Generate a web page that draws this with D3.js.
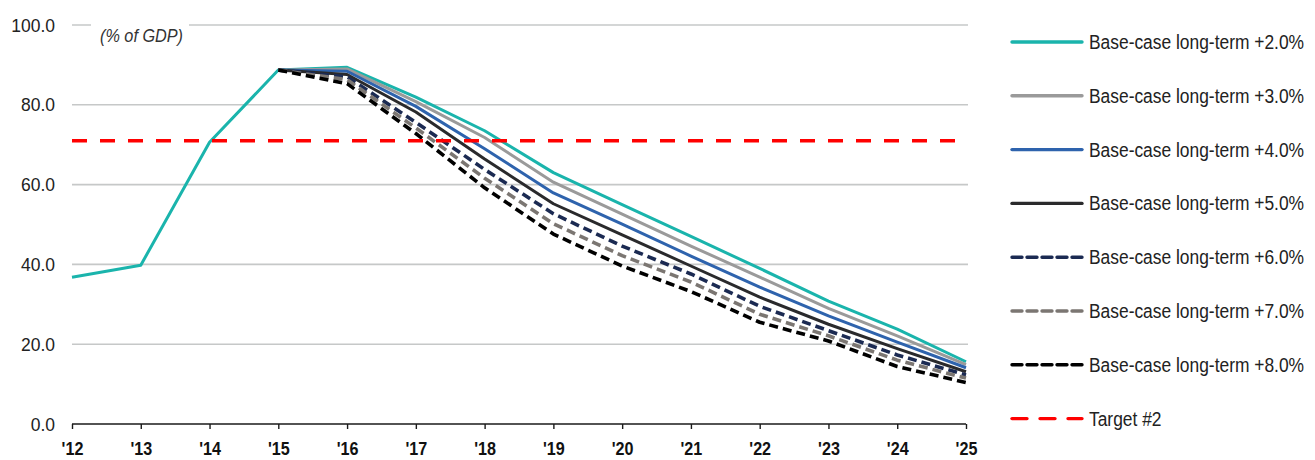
<!DOCTYPE html>
<html>
<head>
<meta charset="utf-8">
<script src="https://cdn.jsdelivr.net/npm/d3@7"></script>
<style>
  html, body { margin: 0; padding: 0; background: #fff; }
  svg { display: block; }
  text { font-family: "Liberation Sans", Arial, sans-serif; }
</style>
</head>
<body>
<svg id="chart" width="1315" height="460"></svg>
<script>
// Debt-to-GDP paths, years '12 to '25
const years = ["'12","'13","'14","'15","'16","'17","'18","'19","'20","'21","'22","'23","'24","'25"];
const yTicks = [0, 20, 40, 60, 80, 100];

// Historical path shared by every scenario up to '15
const history = [36.8, 39.8, 70.6, 88.7];

const plus2 = [89.4, 81.9, 73.5, 63.0, 55.0, 47.0, 39.0, 30.8, 23.8, 15.6];
const plus3 = [89.0, 80.8, 71.8, 60.6, 52.6, 44.6, 36.8, 29.0, 22.1, 14.9];
const plus4 = [88.4, 79.6, 69.0, 57.9, 50.1, 42.1, 34.3, 27.1, 20.5, 14.1];
const plus5 = [87.6, 78.2, 66.4, 55.2, 47.4, 39.6, 31.8, 25.0, 18.9, 13.1];
const plus6 = [87.0, 75.6, 63.8, 52.7, 44.6, 37.6, 29.5, 23.4, 17.3, 12.3];
const plus7 = [86.3, 74.2, 61.6, 50.2, 42.2, 35.6, 27.5, 22.1, 16.0, 11.5];
const plus8 = [85.3, 72.8, 59.2, 47.6, 39.6, 33.2, 25.5, 20.8, 14.4, 10.4];

const target = 71.0;

const seriesNames = [
  "Base-case long-term +2.0%",
  "Base-case long-term +3.0%",
  "Base-case long-term +4.0%",
  "Base-case long-term +5.0%",
  "Base-case long-term +6.0%",
  "Base-case long-term +7.0%",
  "Base-case long-term +8.0%"
];
const targetName = "Target #2";

const colors = ["#1ab4ac", "#9a9a9a", "#2e63ad", "#2a2a2c", "#1b2a52", "#7b7672", "#000000"];
const dashed = [false, false, false, false, true, true, true];
const targetColor = "#ff0000";

const svg = d3.select("#chart");

// Squeeze text horizontally to mimic a condensed face
function condense(sel, k) {
  sel.each(function () {
    const L = this.getComputedTextLength();
    d3.select(this).attr("textLength", L * k).attr("lengthAdjust", "spacingAndGlyphs");
  });
}

const x = d3.scalePoint().domain(years).range([72, 966]);
const y = d3.scaleLinear().domain([0, 100]).range([424, 25]);

// Horizontal gridlines
svg.append("g")
  .selectAll("line")
  .data(yTicks.filter(d => d > 0))
  .join("line")
  .attr("x1", 72).attr("x2", 968)
  .attr("y1", d => y(d)).attr("y2", d => y(d))
  .attr("stroke", "#c6c8c8").attr("stroke-width", 1.6);

// Units label, cut into the top gridline
svg.append("rect").attr("x", 91).attr("y", 20).attr("width", 98).attr("height", 12).attr("fill", "#fff");
svg.append("text")
  .attr("x", 100).attr("y", 42)
  .attr("font-size", 18).attr("font-style", "italic").attr("fill", "#333")
  .text("(% of GDP)")
  .call(s => s.attr("textLength", 83).attr("lengthAdjust", "spacingAndGlyphs"));

// Y axis labels
const yAxis = d3.axisLeft(y).tickValues(yTicks).tickFormat(d3.format(".1f")).tickSize(0).tickPadding(17);
const gy = svg.append("g").attr("transform", "translate(72,0)").call(yAxis);
gy.select(".domain").remove();
gy.selectAll("text").attr("font-size", 19).attr("fill", "#222")
  .style("font-family", "'Liberation Sans', Arial, sans-serif")
  .call(condense, 0.92);

// X axis
const xAxis = d3.axisBottom(x).tickSizeInner(5).tickSizeOuter(0).tickPadding(13);
const gx = svg.append("g").attr("transform", "translate(0,424)").call(xAxis);
gx.select(".domain").attr("stroke", "#1a1a1a").attr("stroke-width", 1.6).attr("d", "M72,0H966");
gx.selectAll(".tick line").attr("stroke", "#1a1a1a").attr("stroke-width", 1.4);
gx.selectAll("text").attr("font-size", 19).attr("font-weight", "bold").attr("fill", "#111")
  .style("font-family", "'Liberation Sans', Arial, sans-serif")
  .call(condense, 0.85);

// Scenario lines
const allSeries = [plus2, plus3, plus4, plus5, plus6, plus7, plus8];
const line = d3.line().x(d => x(d.year)).y(d => y(d.value));

allSeries.forEach((vals, i) => {
  let pts;
  if (i === 0) {
    pts = history.concat(vals).map((v, k) => ({ year: years[k], value: v }));
  } else {
    pts = [history[3]].concat(vals).map((v, k) => ({ year: years[k + 3], value: v }));
  }
  svg.append("path")
    .datum(pts)
    .attr("d", line)
    .attr("fill", "none")
    .attr("stroke", colors[i])
    .attr("stroke-width", dashed[i] ? 3.6 : 3)
    .attr("stroke-linejoin", "round")
    .attr("stroke-dasharray", dashed[i] ? "9,5" : null);
});

// Target line
svg.append("line")
  .attr("x1", 72).attr("x2", 968)
  .attr("y1", y(target)).attr("y2", y(target))
  .attr("stroke", targetColor).attr("stroke-width", 3.4)
  .attr("stroke-dasharray", "15,13");

// Legend
const legendItems = seriesNames.map((n, i) => ({ name: n, color: colors[i], dash: dashed[i] ? "10,5" : null, w: 3.4 }))
  .concat([{ name: targetName, color: targetColor, dash: "15,13", w: 3.4 }]);

const legend = svg.append("g");
legendItems.forEach((d, i) => {
  const cy = 42 + i * 53.8;
  legend.append("line")
    .attr("x1", 1012).attr("x2", 1082)
    .attr("y1", cy).attr("y2", cy)
    .attr("stroke", d.color).attr("stroke-width", d.w)
    .attr("stroke-linecap", "round")
    .attr("stroke-dasharray", d.dash);
  // horizontally squeezed label, like a condensed face
  legend.append("text")
    .attr("transform", `translate(1089,${cy + 7}) scale(0.87,1)`)
    .attr("font-size", 20).attr("fill", "#222")
    .text(d.name);
});
</script>
</body>
</html>
